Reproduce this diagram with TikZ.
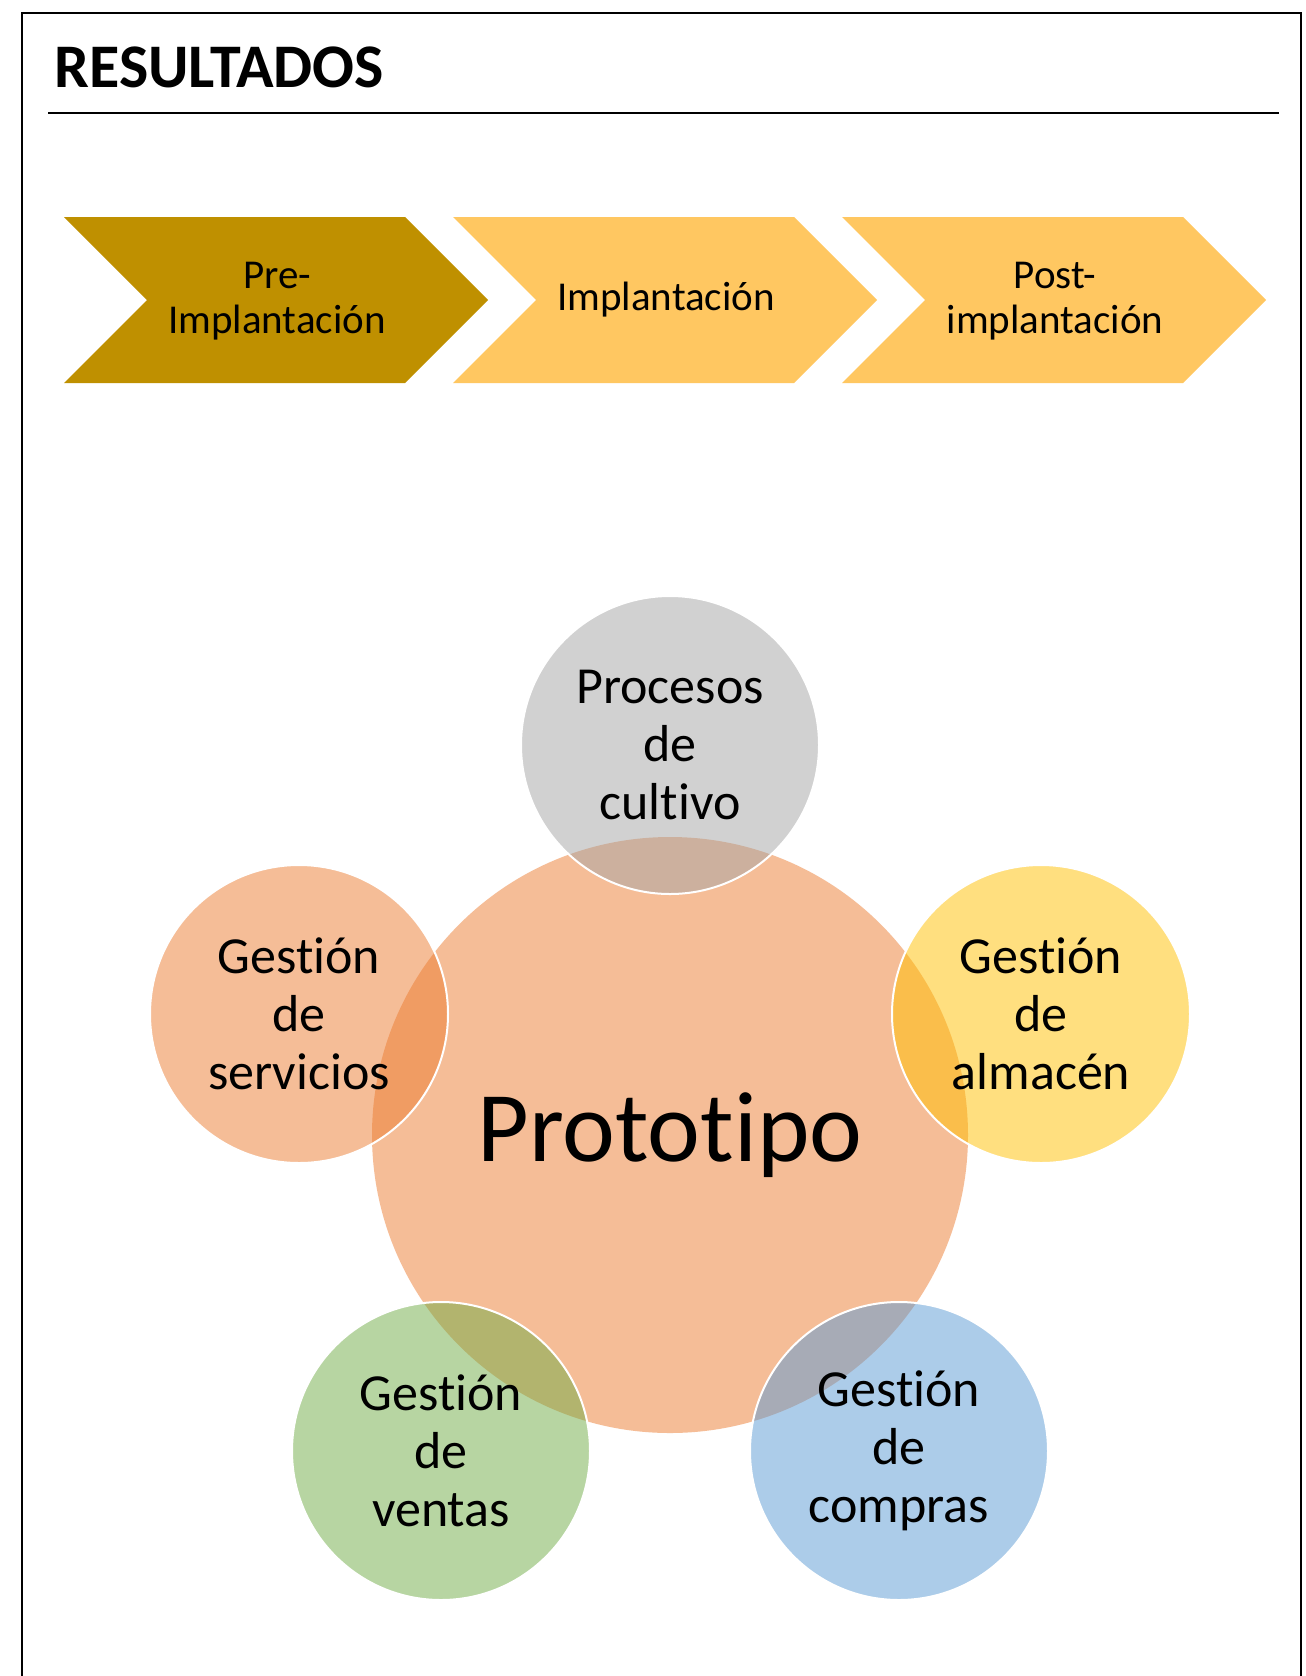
\documentclass[tikz,border=0pt]{standalone}
\usepackage{fontspec}
\setmainfont{Carlito}[Ligatures=NoCommon,RawFeature=-liga]
\definecolor{chevdark}{HTML}{BF9000}
\definecolor{chevlight}{HTML}{FFC761}
\definecolor{accorange}{HTML}{ED7D31}
\definecolor{accgray}{HTML}{A5A5A5}
\definecolor{accyellow}{HTML}{FFC000}
\definecolor{accgreen}{HTML}{70AD47}
\definecolor{accblue}{HTML}{5B9BD5}
\begin{document}
\begin{tikzpicture}[x=0.5pt,y=-0.5pt,
  chevtext/.style={align=center,inner sep=0,font=\fontsize{20.5}{22.5}\selectfont},
  hub/.style={circle,minimum size=298pt,inner sep=0,fill=accorange,fill opacity=0.5,text opacity=1,
    font=\fontsize{50}{56}\selectfont},
  sat/.style={circle,minimum size=149pt,inner sep=0,fill=#1,fill opacity=0.5,text opacity=1,
    draw=white,draw opacity=1,line width=1pt,align=center,font=\fontsize{26}{29}\selectfont}]
\useasboundingbox (0,0) rectangle (1306,1676);
\fill[white] (0,0) rectangle (1306,1676);
% frame
\draw[line width=1.25pt] (22,1680) -- (22,13) -- (1301,13) -- (1301,1680);
% title
\node[anchor=base west,inner sep=0,font=\fontsize{31}{36}\selectfont\bfseries] (title) at (54,87) {RESULTADOS};
\draw[line width=0.75pt] (48,113) -- (1279,113);
% chevrons
\foreach \x/\c in {64/chevdark,453/chevlight,842/chevlight}
  \fill[\c] (\x,217) -- ++(341,0) -- ++(83,83) -- ++(-83,83) -- ++(-341,0) -- ++(83,-83) -- cycle;
\node[chevtext] (c1) at (277,301) {Pre-\\Implantación};
\node[chevtext] (c2) at (666,300) {Implantación};
\node[chevtext] (c3) at (1055,301) {Post-\\implantación};
% radial
\node[hub] (proto) at (670,1135) {Prototipo};
\node[sat=accgray] (s1) at (670,745) {Procesos\\de\\cultivo};
\node[sat=accyellow] (s2) at (1041,1014) {Gestión\\de\\almacén};
\node[sat=accblue] (s3) at (899,1451) {Gestión\\de\\compras};
\node[sat=accgreen] (s4) at (441,1451) {Gestión\\de\\ventas};
\node[sat=accorange] (s5) at (299,1014) {Gestión\\de\\servicios};
\end{tikzpicture}
\end{document}
